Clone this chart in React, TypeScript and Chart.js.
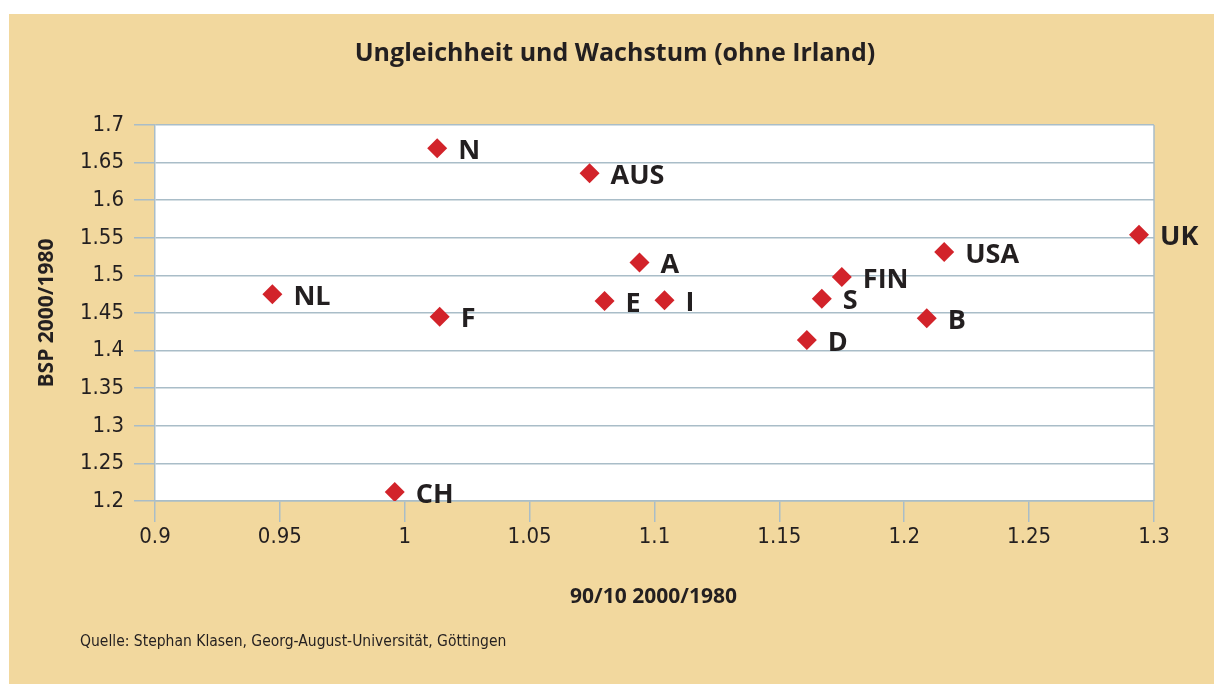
import React, { useEffect, useRef } from "react";
import { Chart, registerables } from "chart.js";

Chart.register(...registerables);

const countryLabels = ["N", "AUS", "A", "E", "I", "NL", "F", "CH", "FIN", "S", "D", "B", "USA", "UK"];
const ratioValues = [1.013, 1.074, 1.094, 1.080, 1.104, 0.947, 1.014, 0.996, 1.175, 1.167, 1.161, 1.209, 1.216, 1.294];
const gdpValues = [1.669, 1.636, 1.517, 1.466, 1.467, 1.475, 1.445, 1.212, 1.498, 1.469, 1.414, 1.443, 1.531, 1.554];
const xTicks = [0.9, 0.95, 1.0, 1.05, 1.1, 1.15, 1.2, 1.25, 1.3];
const xTickLabels = ["0.9", "0.95", "1", "1.05", "1.1", "1.15", "1.2", "1.25", "1.3"];
const yTicks = [1.2, 1.25, 1.3, 1.35, 1.4, 1.45, 1.5, 1.55, 1.6, 1.65, 1.7];
const yTickLabels = ["1.2", "1.25", "1.3", "1.35", "1.4", "1.45", "1.5", "1.55", "1.6", "1.65", "1.7"];

const titleText = "Ungleichheit und Wachstum (ohne Irland)";
const xTitle = "90/10 2000/1980";
const yTitle = "BSP 2000/1980";
const sourceText = "Quelle: Stephan Klasen, Georg-August-Universität, Göttingen";

const BG = "#f2d89e";
const GRID = "#a9bdc8";
const TEXT = "#231f20";
const RED = "#d2232a";
const CONDENSED = "'Liberation Sans Narrow', 'DejaVu Sans Condensed', 'Open Sans', sans-serif";
const BOLD = "'Open Sans', 'Noto Sans', sans-serif";

export default function App() {
  const ref = useRef<HTMLCanvasElement | null>(null);

  useEffect(() => {
    if (!ref.current) return;

    const decor = {
      id: "decor",
      beforeDraw(chart: any) {
        const { ctx, chartArea } = chart;
        ctx.save();
        ctx.fillStyle = "#ffffff";
        ctx.fillRect(chartArea.left, chartArea.top, chartArea.right - chartArea.left, chartArea.bottom - chartArea.top);
        ctx.restore();
      },
      beforeDatasetsDraw(chart: any) {
        const { ctx, chartArea } = chart;
        ctx.save();
        ctx.strokeStyle = GRID;
        ctx.lineWidth = 1.5;
        ctx.beginPath();
        ctx.moveTo(chartArea.right, chartArea.top);
        ctx.lineTo(chartArea.right, chartArea.bottom);
        ctx.stroke();
        ctx.restore();
      },
      afterDatasetsDraw(chart: any) {
        const { ctx } = chart;
        const meta = chart.getDatasetMeta(0);
        ctx.save();
        ctx.fillStyle = TEXT;
        ctx.font = `bold 27px ${BOLD}`;
        ctx.textAlign = "left";
        ctx.textBaseline = "middle";
        meta.data.forEach((pt: any, i: number) => {
          ctx.fillText(countryLabels[i], pt.x + 21, pt.y + 3);
        });
        ctx.restore();
      },
      afterDraw(chart: any) {
        const { ctx, chartArea } = chart;
        ctx.save();
        ctx.fillStyle = TEXT;
        ctx.textAlign = "center";
        ctx.textBaseline = "middle";
        ctx.font = `bold 25px ${BOLD}`;
        ctx.fillText(titleText, 606, 40);
        ctx.font = `bold 21px ${BOLD}`;
        ctx.fillText(xTitle, (chartArea.left + chartArea.right) / 2 - 1, 583);
        ctx.save();
        ctx.translate(38, (chartArea.top + chartArea.bottom) / 2);
        ctx.rotate(-Math.PI / 2);
        ctx.fillText(yTitle, 0, 0);
        ctx.restore();
        ctx.textAlign = "left";
        ctx.font = `15.5px ${CONDENSED}`;
        ctx.fillText(sourceText, 71, 628);
        ctx.restore();
      },
    };

    const chart = new Chart(ref.current, {
      type: "scatter",
      data: {
        labels: countryLabels,
        datasets: [
          {
            label: "Länder",
            data: ratioValues.map((x, i) => ({ x, y: gdpValues[i] })),
            pointStyle: "rectRot",
            pointRadius: 10,
            pointHoverRadius: 10,
            backgroundColor: RED,
            borderColor: RED,
            borderWidth: 0,
          },
        ],
      },
      options: {
        responsive: false,
        animation: false,
        devicePixelRatio: 1,
        layout: { padding: { top: 111, right: 60, left: 0, bottom: 0 } },
        plugins: {
          legend: { display: false },
          title: { display: false },
          tooltip: { enabled: false },
        },
        scales: {
          x: {
            type: "linear",
            min: 0.9,
            max: 1.3,
            afterBuildTicks(scale: any) {
              scale.ticks = xTicks.map((v) => ({ value: v }));
            },
            afterFit(scale: any) {
              scale.height = 183;
            },
            grid: { drawOnChartArea: false, color: GRID, lineWidth: 1.5, tickLength: 21 },
            border: { display: true, color: GRID, width: 1.5 },
            ticks: {
              color: TEXT,
              font: { family: CONDENSED, size: 22 },
              padding: 2,
              maxRotation: 0,
              autoSkip: false,
              callback: (_v: any, i: number) => xTickLabels[i],
            },
          },
          y: {
            type: "linear",
            min: 1.2,
            max: 1.7,
            afterBuildTicks(scale: any) {
              scale.ticks = yTicks.map((v) => ({ value: v }));
            },
            afterFit(scale: any) {
              scale.width = 146;
            },
            grid: { color: GRID, lineWidth: 1.5, tickLength: 21 },
            border: { display: true, color: GRID, width: 1.5 },
            ticks: {
              color: TEXT,
              font: { family: CONDENSED, size: 22 },
              padding: 10,
              autoSkip: false,
              callback: (_v: any, i: number) => yTickLabels[i],
            },
          },
        },
      },
      plugins: [decor],
    });

    return () => chart.destroy();
  }, []);

  return (
    <div style={{ position: "absolute", left: 9, top: 14, width: 1205, height: 670, background: BG }}>
      <canvas ref={ref} width={1205} height={670} style={{ display: "block", width: 1205, height: 670 }} />
    </div>
  );
}
